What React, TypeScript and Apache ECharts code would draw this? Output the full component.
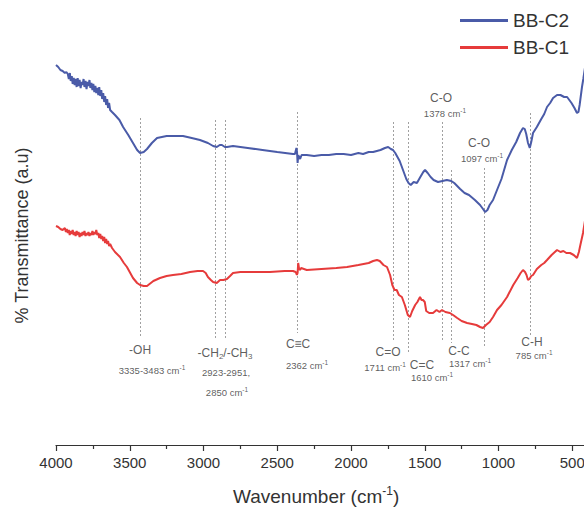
import React, { useEffect, useRef } from "react";
import * as echarts from "echarts";

// ---- Data (wavenumber cm-1, arbitrary transmittance units) ----
const seriesNames = ["BB-C2", "BB-C1"];

const bbC2: [number, number][] = [
  [4000, 380], [3985, 378], [3970, 375], [3955, 374], [3940, 372], [3930, 373], [3920, 371], [3913, 366],
  [3906, 372], [3900, 364], [3893, 369], [3887, 361], [3880, 367], [3873, 360], [3867, 366], [3860, 358],
  [3853, 367], [3847, 359], [3840, 365], [3833, 357], [3827, 363], [3820, 360], [3813, 366], [3807, 358],
  [3800, 364], [3793, 356], [3787, 363], [3780, 359], [3773, 365], [3767, 357], [3760, 362], [3753, 355],
  [3747, 361], [3740, 353], [3733, 359], [3727, 352], [3720, 357], [3713, 350], [3707, 358], [3700, 349],
  [3693, 355], [3687, 346], [3680, 352], [3673, 343], [3667, 349], [3660, 340], [3653, 346], [3647, 337],
  [3640, 342], [3633, 335], [3620, 333], [3600, 330],
  [3570, 325], [3545, 318], [3510, 310], [3478, 302], [3450, 295], [3430, 292], [3405, 293], [3383, 296],
  [3350, 302], [3315, 307], [3250, 309], [3139, 309], [3080, 307], [3024, 305], [2970, 302], [2935, 299],
  [2910, 298], [2890, 300], [2875, 300], [2855, 298], [2841, 298], [2800, 299], [2700, 297], [2600, 295],
  [2500, 293], [2393, 291], [2380, 291], [2370, 297], [2366, 293], [2362, 282], [2357, 290], [2352, 288],
  [2345, 286], [2335, 290], [2300, 290], [2250, 289], [2200, 290], [2150, 290], [2100, 291], [2050, 291],
  [2000, 290], [1950, 292], [1918, 291], [1880, 293], [1850, 293], [1800, 295], [1770, 297], [1748, 298],
  [1730, 296], [1715, 295], [1700, 292], [1685, 288], [1670, 284], [1660, 280], [1645, 274], [1625, 266],
  [1610, 262], [1595, 260], [1575, 263], [1553, 262], [1530, 268], [1510, 273], [1498, 275], [1480, 272],
  [1460, 268], [1440, 265], [1410, 263], [1380, 264], [1350, 265], [1320, 264], [1300, 262], [1260, 256],
  [1230, 252], [1200, 250], [1160, 245], [1125, 240], [1105, 236], [1091, 233], [1075, 235], [1060, 240],
  [1037, 245], [1010, 255], [980, 266], [942, 285], [910, 295], [880, 303], [854, 312], [834, 317],
  [822, 316], [812, 311], [800, 302], [788, 297], [778, 303], [766, 312], [740, 318], [710, 326],
  [690, 331], [671, 338], [650, 342], [630, 347], [603, 350], [580, 350], [555, 348], [535, 348],
  [505, 342], [485, 337], [468, 332], [458, 333], [450, 340], [434, 358], [425, 366], [413, 378]
];

const bbC1: [number, number][] = [
  [4000, 219], [3985, 218], [3970, 216], [3955, 215], [3940, 217], [3933, 213], [3927, 216], [3920, 212],
  [3913, 215], [3907, 210], [3900, 214], [3893, 211], [3887, 215], [3880, 210], [3873, 213], [3867, 209],
  [3860, 214], [3853, 210], [3847, 213], [3840, 208], [3833, 212], [3827, 209], [3820, 213], [3813, 210],
  [3807, 214], [3800, 209], [3793, 212], [3787, 210], [3780, 213], [3773, 209], [3767, 212], [3760, 210],
  [3753, 214], [3747, 210], [3740, 213], [3733, 211], [3727, 215], [3720, 210], [3713, 212], [3707, 207],
  [3700, 211], [3693, 206], [3687, 209], [3680, 204], [3673, 208], [3667, 202], [3660, 206], [3653, 201],
  [3647, 204], [3640, 199], [3633, 201], [3620, 197], [3600, 193], [3566, 188],
  [3540, 182], [3519, 178], [3478, 167], [3450, 162], [3430, 160], [3405, 159], [3383, 159], [3340, 164],
  [3295, 167], [3250, 169], [3207, 170], [3150, 171], [3091, 173], [3040, 174], [3003, 174], [2985, 172],
  [2970, 168], [2950, 165], [2935, 163], [2910, 162], [2888, 165], [2865, 165], [2841, 166], [2820, 169],
  [2800, 172], [2750, 173], [2650, 173], [2550, 173], [2450, 174], [2393, 174], [2375, 173], [2367, 170],
  [2362, 172], [2358, 182], [2353, 177], [2346, 175], [2338, 177], [2300, 175], [2200, 176], [2100, 177],
  [2027, 178], [1950, 180], [1880, 182], [1850, 184], [1824, 185], [1805, 184], [1780, 180], [1756, 178],
  [1735, 170], [1720, 160], [1705, 155], [1690, 155], [1675, 150], [1655, 148], [1635, 140], [1615, 130],
  [1600, 128], [1585, 134], [1565, 140], [1550, 143], [1532, 148], [1522, 145], [1512, 145], [1500, 143],
  [1490, 134], [1470, 132], [1444, 132], [1420, 135], [1400, 133], [1383, 135], [1360, 133], [1330, 132],
  [1308, 130], [1280, 127], [1250, 124], [1213, 122], [1180, 121], [1150, 120], [1125, 118], [1105, 117],
  [1085, 120], [1060, 123], [1037, 128], [1010, 135], [980, 140], [942, 148], [900, 160], [870, 167],
  [850, 172], [834, 175], [820, 173], [810, 170], [800, 165], [790, 166], [778, 169], [766, 170],
  [740, 176], [710, 180], [690, 182], [671, 185], [640, 190], [603, 195], [580, 193], [560, 194],
  [540, 192], [515, 192], [490, 190], [468, 187], [455, 193], [445, 200], [427, 212], [413, 225]
];

// Peak annotations: wavenumber and dotted line extent (top, bottom)
const peakWavenumbers = [3430, 2923, 2850, 2362, 1711, 1610, 1378, 1317, 1097, 785];
const peakLineTop = [327, 325, 325, 333, 323, 323, 323, 275, 277, 332];
const peakLineBottom = [107, 105, 105, 112, 105, 93, 105, 102, 98, 108];

// Group labels: [wavenumber, y, text]
const groupLabels: [number, number, string][] = [
  [3430, 95, "-OH"],
  [2854, 92, "CH"],
  [2359, 101, "C≡C"],
  [1749, 93, "C=O"],
  [1519, 80, "C=C"],
  [1268, 94, "C-C"],
  [773, 103, "C-H"],
  [1390, 347, "C-O"],
  [1132, 302, "C-O"]
];

// Wavenumber labels: [wavenumber, y, text, hasSuperscript]
const wnLabels: [number, number, string, number][] = [
  [3349, 75, "3335-3483 cm", 1],
  [2847, 73, "2923-2951,", 0],
  [2841, 53, "2850 cm", 1],
  [2298, 80, "2362 cm", 1],
  [1769, 78, "1711 cm", 1],
  [1451, 68, "1610 cm", 1],
  [1193, 82, "1317 cm", 1],
  [759, 90, "785 cm", 1],
  [1363, 332, "1378 cm", 1],
  [1112, 287, "1097 cm", 1]
];

const xTicks = { min: 0, max: 4000, interval: 500 };

const FONT = "'Liberation Sans', Arial, Helvetica, sans-serif";
const BLUE = "#4a5ba8";
const RED = "#e63b3b";
const TEXT = "#333";

export default function App() {
  const ref = useRef<HTMLDivElement>(null);

  useEffect(() => {
    if (!ref.current) return;
    const chart = echarts.init(ref.current, undefined, { renderer: "svg" });

    const markLineData = peakWavenumbers.map((wn, i) => [
      { coord: [wn, peakLineTop[i]] },
      { coord: [wn, peakLineBottom[i]] }
    ]);

    chart.setOption({
      animation: false,
      textStyle: { fontFamily: FONT },
      grid: { left: 56, top: 26, width: 590, height: 419, containLabel: false, outerBoundsMode: "none" },
      legend: {
        data: seriesNames,
        orient: "vertical",
        left: 460,
        top: 11,
        padding: 0,
        itemWidth: 48,
        itemHeight: 3,
        itemGap: 8,
        icon: "rect",
        textStyle: { fontSize: 19, color: TEXT, fontFamily: FONT, padding: [0, 0, 0, 0] }
      },
      xAxis: {
        type: "value",
        inverse: true,
        min: xTicks.min,
        max: xTicks.max,
        interval: xTicks.interval,
        axisLine: { show: true, lineStyle: { color: "#333", width: 1.2 } },
        axisTick: { show: true, length: 6, lineStyle: { color: "#333", width: 1.2 } },
        minorTick: { show: true, splitNumber: 2, length: 4, lineStyle: { color: "#333", width: 1.2 } },
        splitLine: { show: false },
        axisLabel: {
          fontSize: 15,
          color: TEXT,
          margin: 10,
          fontFamily: FONT,
          formatter: (v: number) => String(v)
        }
      },
      yAxis: {
        type: "value",
        min: 0,
        max: 419,
        name: "% Transmittance (a.u)",
        nameLocation: "middle",
        nameGap: 25,
        nameTextStyle: { fontSize: 18, color: TEXT, fontFamily: FONT },
        axisLine: { show: true, lineStyle: { color: "#333", width: 1.2 } },
        axisTick: { show: false },
        axisLabel: { show: false },
        splitLine: { show: false }
      },
      graphic: [
        {
          type: "text",
          left: 233,
          top: 485,
          style: {
            text: "{a|Wavenumber (cm}{s|-1}{a|)}",
            rich: {
              a: { fontSize: 19, fill: TEXT, fontFamily: FONT },
              s: { fontSize: 12, fill: TEXT, fontFamily: FONT, padding: [0, 0, 10, 0] }
            }
          }
        }
      ],
      series: [
        {
          name: "BB-C2",
          type: "line",
          data: bbC2,
          showSymbol: false,
          symbol: "none",
          lineStyle: { color: BLUE, width: 2 },
          itemStyle: { color: BLUE },
          z: 3
        },
        {
          name: "BB-C1",
          type: "line",
          data: bbC1,
          showSymbol: false,
          symbol: "none",
          lineStyle: { color: RED, width: 2 },
          itemStyle: { color: RED },
          z: 3,
          markLine: {
            silent: true,
            symbol: "none",
            label: { show: false },
            lineStyle: { color: "#a0a0a0", width: 1, type: [2, 2] },
            data: markLineData,
            z: 1
          }
        },
        {
          name: "groups",
          type: "scatter",
          symbolSize: 0,
          data: groupLabels,
          silent: true,
          label: {
            show: true,
            position: "inside",
            formatter: (p: any) =>
              p.data[2] === "CH"
                ? "{a|-CH}{b|2}{a|/-CH}{b|3}"
                : "{a|" + p.data[2] + "}",
            rich: {
              a: { fontSize: 12, color: TEXT, fontFamily: FONT },
              b: { fontSize: 8, color: TEXT, fontFamily: FONT, padding: [7, 0, 0, 0] }
            }
          }
        },
        {
          name: "wavenumbers",
          type: "scatter",
          symbolSize: 0,
          data: wnLabels,
          silent: true,
          label: {
            show: true,
            position: "inside",
            formatter: (p: any) =>
              p.data[3] ? "{a|" + p.data[2] + "}{s|-1}" : "{a|" + p.data[2] + "}",
            rich: {
              a: { fontSize: 9.5, color: TEXT, fontFamily: FONT },
              s: { fontSize: 6.5, color: TEXT, fontFamily: FONT, padding: [0, 0, 6, 0] }
            }
          }
        }
      ]
    });

    return () => chart.dispose();
  }, []);

  return (
    <div
      ref={ref}
      style={{ position: "fixed", left: 0, top: 0, width: 584, height: 513, background: "#fff" }}
    />
  );
}
